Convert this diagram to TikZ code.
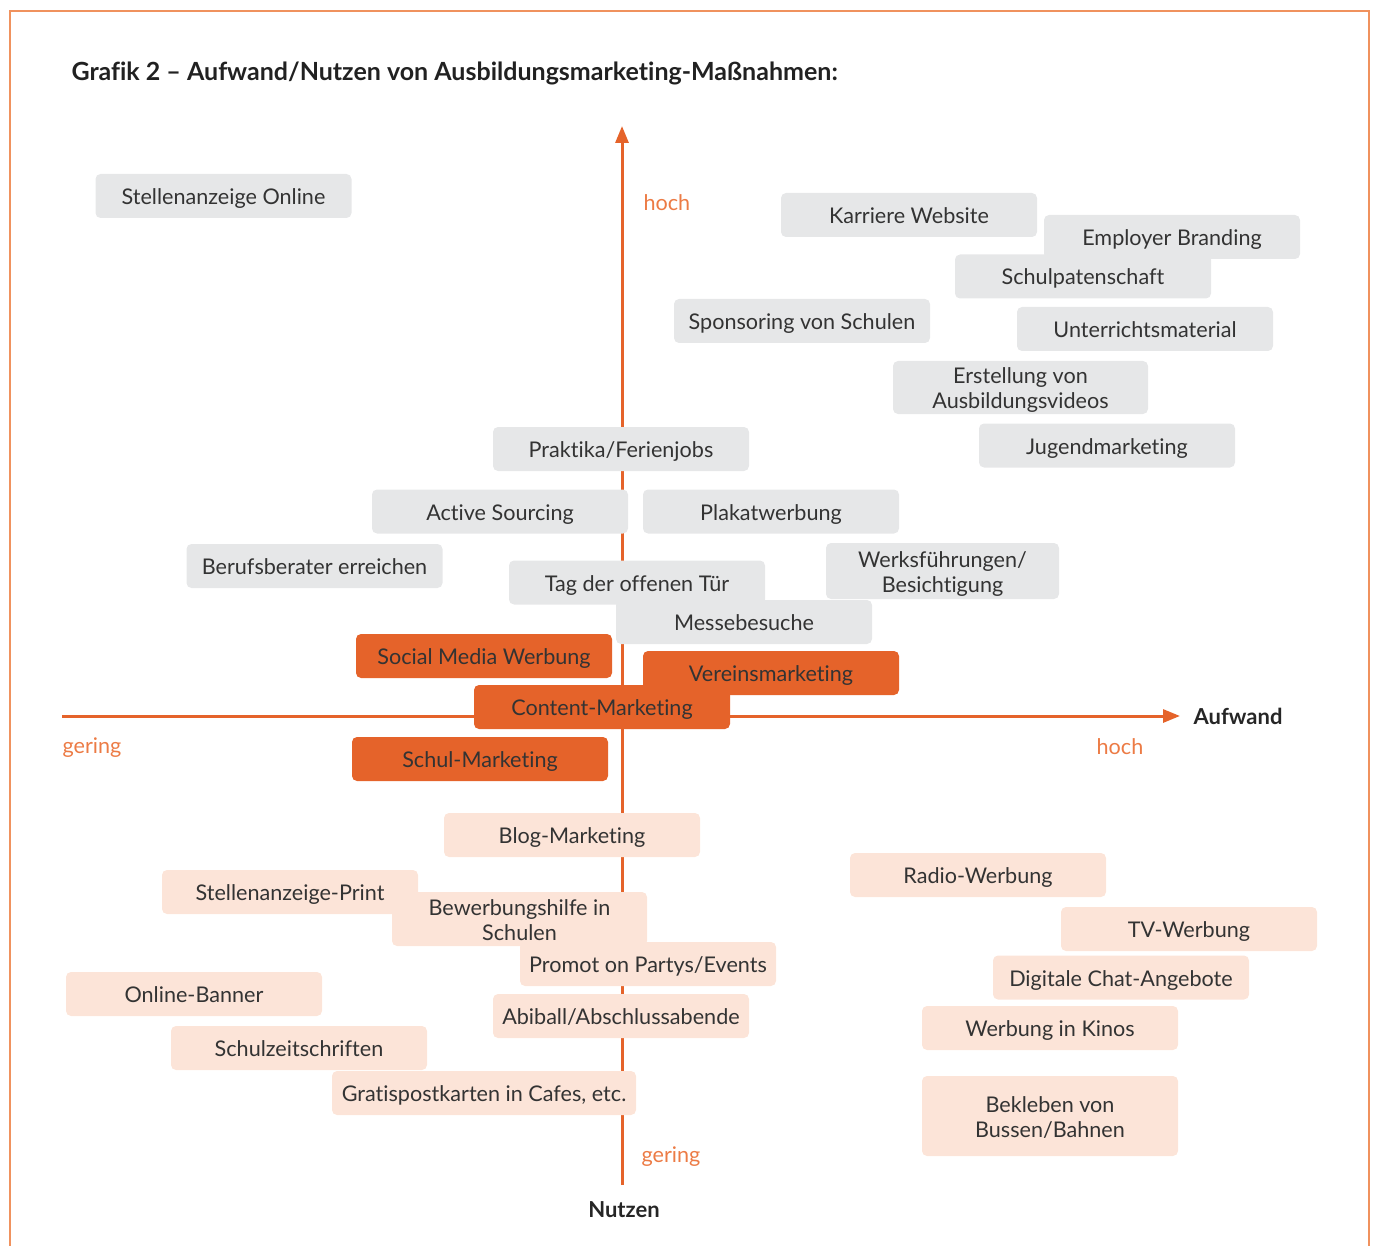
\documentclass[tikz,border=0pt]{standalone}
\usepackage{fontspec}
\setmainfont{Lato}[Ligatures={NoCommon}]
\usepackage{tikz}
\usetikzlibrary{arrows.meta}
\usepackage{xcolor}
\definecolor{axisorange}{HTML}{E5632A}
\definecolor{labelorange}{HTML}{EC7B45}
\definecolor{frameorange}{HTML}{F0925E}
\definecolor{boxgrey}{HTML}{E6E7E8}
\definecolor{boxpeach}{HTML}{FCE4D8}
\definecolor{textdark}{HTML}{333333}

\begin{document}
\begin{tikzpicture}[x=1pt, y=-1pt, every node/.style={font=\fontsize{21.6}{25}\selectfont, text=textdark},
  massnahme/.style={rounded corners=5pt, minimum width=256pt, minimum height=44pt, inner sep=1pt, align=center,
    text height=21pt, text depth=4pt},
  zweizeilig/.style={text height=46pt, text depth=4pt},
  grau/.style={massnahme, fill=boxgrey},
  stark/.style={massnahme, fill=axisorange},
  hell/.style={massnahme, fill=boxpeach},
  skala/.style={text=labelorange},
  achsname/.style={font=\fontsize{22}{26}\selectfont\bfseries, text=black!85}]
\useasboundingbox (0,0) rectangle (1376,1246);
\draw[frameorange, line width=1.5pt] (10,1270) -- (10,11) -- (1369,11) -- (1369,1270);

\node[anchor=west, font=\fontsize{25}{28}\selectfont\bfseries, text=black!87] (titel) at (68,73)
  {Grafik 2 -- Aufwand/Nutzen von Ausbildungsmarketing-Maßnahmen:};

% Achsen
\coordinate (nutzenunten) at (622,1185);
\coordinate (nutzenoben) at (622,126);
\coordinate (aufwandlinks) at (62,716);
\coordinate (aufwandrechts) at (1180,716);
\draw[axisorange, line width=3pt, -{Triangle[length=17pt,width=13pt]}] (nutzenunten) -- (nutzenoben);
\draw[axisorange, line width=3pt, -{Triangle[length=17pt,width=13pt]}] (aufwandlinks) -- (aufwandrechts);

\node[skala, anchor=west] (nhoch) at (640,203) {hoch};
\node[skala, anchor=west] (ngering) at (638,1157) {gering};
\node[skala, anchor=west] (agering) at (59,748) {gering};
\node[skala] (ahoch) at (1120,747) {hoch};
\node[achsname, anchor=west] (aufwand) at (1190,716) {Aufwand};
\node[achsname] (nutzen) at (624,1210) {Nutzen};

% hoher Nutzen
\node[grau] (stellon) at (223.5,196) {Stellenanzeige Online};
\node[grau] (karriere) at (909,215) {Karriere Website};
\node[grau] (employer) at (1172,237) {Employer Branding};
\node[grau] (paten) at (1083,276.5) {Schulpatenschaft};
\node[grau] (sponsor) at (802,321) {Sponsoring von Schulen};
\node[grau] (unterricht) at (1145,329) {Unterrichtsmaterial};
\node[grau, zweizeilig, minimum width=255pt, minimum height=53pt] (videos) at (1020.5,387.5) {Erstellung von\\Ausbildungsvideos};
\node[grau] (jugend) at (1107,445.5) {Jugendmarketing};
\node[grau] (praktika) at (621,449) {Praktika/Ferienjobs};
\node[grau] (sourcing) at (500,511.5) {Active Sourcing};
\node[grau] (plakat) at (771,511.5) {Plakatwerbung};
\node[grau] (berater) at (314.5,566) {Berufsberater erreichen};
\node[grau] (tag) at (637,582.5) {Tag der offenen Tür};
\node[grau, zweizeilig, minimum width=233pt, minimum height=56pt] (werk) at (942.5,571) {Werksführungen/\\Besichtigung};
\node[grau] (messe) at (744,622) {Messebesuche};

% Schwerpunkte
\node[stark] (social) at (484,656) {Social Media Werbung};
\node[stark] (verein) at (771,673) {Vereinsmarketing};
\node[stark] (content) at (602,707) {Content-Marketing};
\node[stark] (schul) at (480,759) {Schul-Marketing};

% geringer Nutzen
\node[hell] (blog) at (572,835) {Blog-Marketing};
\node[hell] (radio) at (978,875) {Radio-Werbung};
\node[hell] (print) at (290,892) {Stellenanzeige-Print};
\node[hell, zweizeilig, minimum width=255pt, minimum height=54pt] (bewerbung) at (519.5,919) {Bewerbungshilfe in\\Schulen};
\node[hell] (tv) at (1189,929) {TV-Werbung};
\node[hell] (promot) at (648,964) {Promot on Partys/Events};
\node[hell] (chat) at (1121,977.5) {Digitale Chat-Angebote};
\node[hell] (banner) at (194,994) {Online-Banner};
\node[hell] (abiball) at (621,1016) {Abiball/Abschlussabende};
\node[hell] (kinos) at (1050,1028) {Werbung in Kinos};
\node[hell] (zeitschrift) at (299,1048) {Schulzeitschriften};
\node[hell, minimum width=304pt] (postkarten) at (484,1093) {Gratispostkarten in Cafes, etc.};
\node[hell, zweizeilig, minimum height=80pt] (bekleben) at (1050,1116) {Bekleben von\\Bussen/Bahnen};
\end{tikzpicture}
\end{document}
